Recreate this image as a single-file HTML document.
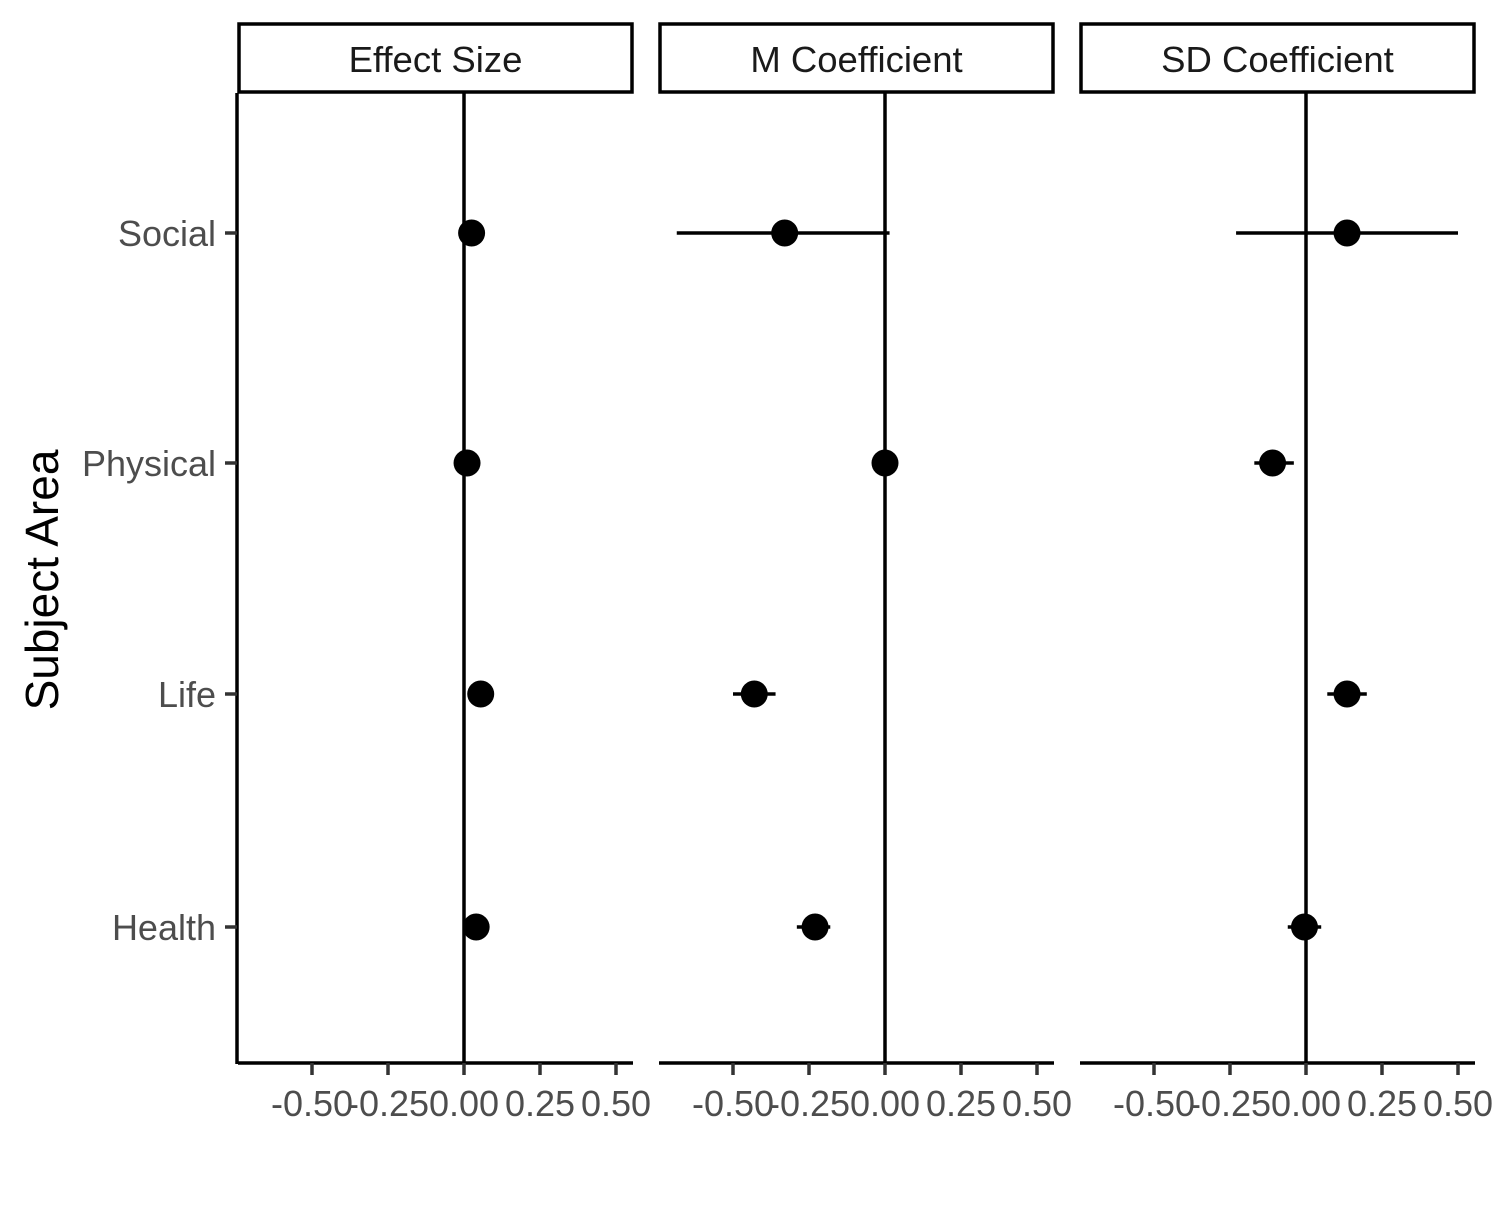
<!DOCTYPE html>
<html><head><meta charset="utf-8"><style>
body{margin:0;background:#fff}
svg text{font-family:"Liberation Sans",Arial,sans-serif}
</style></head><body>
<svg id="chart" width="1500" height="1200" viewBox="0 0 1500 1200" xmlns="http://www.w3.org/2000/svg">
<rect width="1500" height="1200" fill="#fff"/>
<text transform="translate(58,580) rotate(-90)" font-size="46" text-anchor="middle" fill="#000">Subject Area</text>
</svg>
<script>
const panels=["Effect Size","M Coefficient","SD Coefficient"];
const categories=["Social","Physical","Life","Health"];
const estimates=[[0.025,0.01,0.055,0.04],[-0.33,0.0,-0.43,-0.23],[0.135,-0.11,0.135,-0.005]];
const lowers=[[0.025,0.01,0.055,0.04],[-0.685,0.0,-0.5,-0.29],[-0.23,-0.17,0.07,-0.06]];
const uppers=[[0.025,0.01,0.055,0.04],[0.015,0.0,-0.36,-0.18],[0.5,-0.04,0.2,0.05]];
const tickValues=[-0.5,-0.25,0,0.25,0.5];
const tickLabels=["-0.50","-0.25","0.00","0.25","0.50"];
const svg=document.getElementById('chart');
const NS='http://www.w3.org/2000/svg';
function mk(t,a,p){const e=document.createElementNS(NS,t);for(const k in a)e.setAttribute(k,a[k]);(p||svg).appendChild(e);return e;}
const panelX=[238,659,1080],panelW=395,plotTop=93,plotBottom=1063;
const yPos=[233,463,694,927];
function yScale(i){return yPos[i];}
function xScale(p,v){return panelX[p]+226+v*304;}
const SW=3.5;
const la=mk('line',{x1:237,y1:plotTop,x2:237,y2:plotBottom+1,stroke:'#000','stroke-width':SW});


categories.forEach((c,i)=>{
 const t=mk('line',{x1:225,y1:yScale(i),x2:237,y2:yScale(i),stroke:'#333','stroke-width':SW});
 
 
 const l=mk('text',{x:216,y:yScale(i)+13,'font-size':36,'text-anchor':'end',fill:'#4d4d4d'});
 l.textContent=c;
 
 
});
panels.forEach((name,p)=>{
 const x0=panelX[p];
 const s=mk('rect',{x:x0+1,y:24,width:panelW-2,height:68,fill:'#fff',stroke:'#000','stroke-width':SW});
 
 
 const st=mk('text',{x:x0+panelW/2,y:72,'font-size':36.5,'text-anchor':'middle',fill:'#1a1a1a'});
 st.textContent=name;
 
 
 const ba=mk('line',{x1:x0,y1:plotBottom,x2:x0+panelW,y2:plotBottom,stroke:'#000','stroke-width':SW});
 
 
 tickValues.forEach((v,k)=>{
  const tx=xScale(p,v);
  const tk=mk('line',{x1:tx,y1:plotBottom,x2:tx,y2:plotBottom+12,stroke:'#333','stroke-width':SW});
  
  
  const tl=mk('text',{x:tx,y:1116,'font-size':36,'text-anchor':'middle',fill:'#4d4d4d'});
  tl.textContent=tickLabels[k];
  
  
 });
 const z=mk('line',{x1:xScale(p,0),y1:plotTop,x2:xScale(p,0),y2:plotBottom,stroke:'#000','stroke-width':SW});
 
 
 categories.forEach((c,i)=>{
  const y=yScale(i);
  const eb=mk('line',{x1:xScale(p,lowers[p][i]),y1:y,x2:xScale(p,uppers[p][i]),y2:y,stroke:'#000','stroke-width':SW});
  
  
  const pt=mk('circle',{cx:xScale(p,estimates[p][i]),cy:y,r:13.5,fill:'#000'});
  
  
 });
});
</script>
</body></html>
